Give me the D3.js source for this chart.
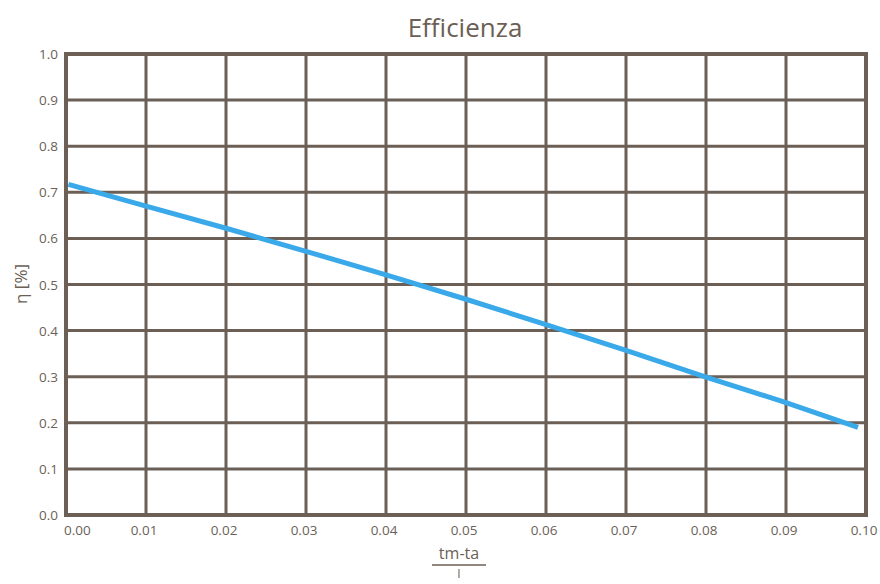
<!DOCTYPE html>
<html><head><meta charset="utf-8">
<script src="https://cdn.jsdelivr.net/npm/d3@7"></script>
<style>body{margin:0;background:#fff;}svg{display:block;}text{font-family:"Open Sans","DejaVu Sans",sans-serif;fill:#6b5f56;}</style>
</head><body><svg id="c" width="880" height="584"></svg>
<script>
const xTicks = [0,0.01,0.02,0.03,0.04,0.05,0.06,0.07,0.08,0.09,0.10];
const yTicks = [0,0.1,0.2,0.3,0.4,0.5,0.6,0.7,0.8,0.9,1.0];
const xVals = [0.0003,0.01,0.02,0.03,0.04,0.05,0.06,0.07,0.08,0.09,0.099];
const etaVals = [0.717,0.670,0.622,0.572,0.521,0.468,0.413,0.357,0.299,0.244,0.190];
const title = "Efficienza";

const svg = d3.select("#c");
const m = {l:66,r:866,t:54,b:515};
const x = d3.scaleLinear().domain([0,0.1]).range([m.l,m.r]);
const y = d3.scaleLinear().domain([0,1]).range([m.b,m.t]);
const grid = "#6b5f56";

svg.append("g").selectAll("line.v").data(xTicks.slice(1,-1)).join("line")
  .attr("x1",d=>x(d)).attr("x2",d=>x(d)).attr("y1",m.t).attr("y2",m.b)
  .attr("stroke",grid).attr("stroke-width",3);
svg.append("g").selectAll("line.h").data(yTicks.slice(1,-1)).join("line")
  .attr("x1",m.l).attr("x2",m.r).attr("y1",d=>y(d)).attr("y2",d=>y(d))
  .attr("stroke",grid).attr("stroke-width",3);
svg.append("rect").attr("x",m.l).attr("y",m.t).attr("width",m.r-m.l).attr("height",m.b-m.t)
  .attr("fill","none").attr("stroke",grid).attr("stroke-width",4);

svg.append("path").datum(xVals.map((v,i)=>[v,etaVals[i]]))
  .attr("d",d3.line().x(d=>x(d[0])).y(d=>y(d[1])))
  .attr("fill","none").attr("stroke","#3aa9ea").attr("stroke-width",5);

svg.append("g").selectAll("text").data(yTicks).join("text")
  .attr("x",58).attr("y",d=>y(d)+5).attr("text-anchor","end")
  .attr("font-size",13.5).text(d=>d.toFixed(1));
svg.append("g").selectAll("text").data(xTicks).join("text")
  .attr("x",d=>x(d)-2).attr("y",535)
  .attr("text-anchor",(d,i)=>i===0?"start":"middle")
  .attr("font-size",13.5).text(d=>d.toFixed(2));

svg.append("text").attr("x",465).attr("y",37).attr("text-anchor","middle")
  .attr("font-size",26).text(title);

svg.append("text").attr("transform","translate(27,284) rotate(-90)")
  .attr("text-anchor","middle").attr("font-size",17).text("η [%]");

svg.append("text").attr("x",459).attr("y",559).attr("text-anchor","middle")
  .attr("font-size",16).text("tm-ta");
svg.append("line").attr("x1",432).attr("x2",486).attr("y1",565).attr("y2",565)
  .attr("stroke",grid).attr("stroke-width",1.5);
svg.append("text").attr("x",459).attr("y",578).attr("text-anchor","middle")
  .attr("font-size",12).text("I");
</script></body></html>
